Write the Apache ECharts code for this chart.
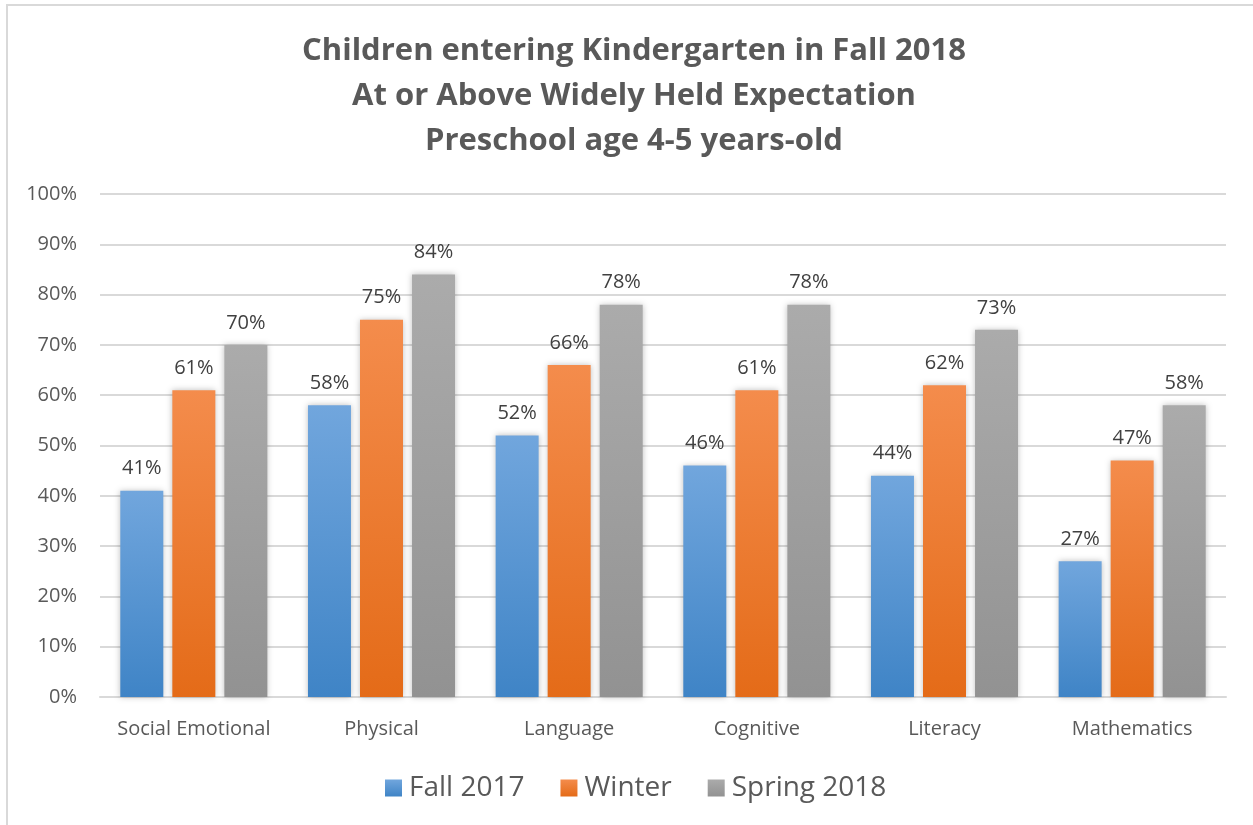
<!DOCTYPE html>
<html>
<head>
<meta charset="utf-8">
<script src="https://cdn.jsdelivr.net/npm/echarts@6/dist/echarts.min.js"></script>
<style>
    html, body { margin: 0; padding: 0; background: #fff; }
    #frame {
        position: absolute; left: 6px; top: 4px; width: 1260px; height: 840px;
        border-left: 2px solid #d9d9d9; border-top: 2px solid #d9d9d9;
        box-sizing: border-box;
    }
    #chartDiv { position: absolute; left: 0; top: 0; width: 1253px; height: 825px; }
</style>
</head>
<body>
<div id="frame"></div>
<div id="chartDiv"></div>
<script>
// Chart data
const categories = ['Social Emotional', 'Physical', 'Language', 'Cognitive', 'Literacy', 'Mathematics'];
const fall2017 = [41, 58, 52, 46, 44, 27];
const winter = [61, 75, 66, 61, 62, 47];
const spring2018 = [70, 84, 78, 78, 73, 58];
const yTicks = [0, 10, 20, 30, 40, 50, 60, 70, 80, 90, 100];

const FONT = '"Open Sans", Lato, sans-serif';
const TEXT_COLOR = '#595959';

function gradient(top, bottom) {
    return new echarts.graphic.LinearGradient(0, 0, 0, 1, [
        { offset: 0, color: top },
        { offset: 1, color: bottom }
    ]);
}

function barSeries(name, data, top, bottom) {
    return {
        name: name,
        type: 'bar',
        data: data,
        barWidth: 43,
        barGap: '21%',
        itemStyle: {
            color: gradient(top, bottom),
            shadowColor: 'rgba(0,0,0,0.25)',
            shadowBlur: 6
        },
        label: {
            show: true,
            position: 'top',
            distance: 12,
            formatter: '{c}%',
            fontFamily: FONT,
            fontSize: 20,
            color: '#404040'
        }
    };
}

function renderChart() {
    const chartDom = document.getElementById('chartDiv');
    const myChart = echarts.init(chartDom, null, { renderer: 'canvas' });

    const option = {
        backgroundColor: 'transparent',
        animation: false,
        title: {
            text: 'Children entering Kindergarten in Fall 2018\nAt or Above Widely Held Expectation\nPreschool age 4-5 years-old',
            left: 629,
            textAlign: 'center',
            top: 24,
            textStyle: {
                fontFamily: FONT,
                fontSize: 31,
                fontWeight: 'bold',
                color: TEXT_COLOR,
                lineHeight: 45
            }
        },
        legend: {
            data: ['Fall 2017', 'Winter', 'Spring 2018'],
            bottom: 18,
            left: 380,
            itemWidth: 17,
            itemHeight: 17,
            itemGap: 36,
            icon: 'rect',
            textStyle: { fontFamily: FONT, fontSize: 28, color: TEXT_COLOR, padding: [0, 0, 0, 2] }
        },
        grid: { left: 100, right: 27, top: 194, bottom: 128 },
        xAxis: {
            type: 'category',
            data: categories,
            axisLine: { lineStyle: { color: '#d9d9d9', width: 2 } },
            axisTick: { show: false },
            axisLabel: { interval: 0, fontFamily: FONT, fontSize: 20, color: TEXT_COLOR, margin: 22 }
        },
        yAxis: {
            type: 'value',
            min: yTicks[0],
            max: yTicks[yTicks.length - 1],
            interval: 10,
            axisLine: { show: false },
            axisTick: { show: false },
            splitLine: { lineStyle: { color: '#d9d9d9', width: 2 } },
            axisLabel: { fontFamily: FONT, fontSize: 20, color: TEXT_COLOR, margin: 23, formatter: '{value}%' }
        },
        series: [
            barSeries('Fall 2017', fall2017, '#71a6dd', '#3f84c6'),
            barSeries('Winter', winter, '#f48c4c', '#e46b18'),
            barSeries('Spring 2018', spring2018, '#ababab', '#929292')
        ]
    };

    myChart.setOption(option);
}

renderChart();
</script>
</body>
</html>
